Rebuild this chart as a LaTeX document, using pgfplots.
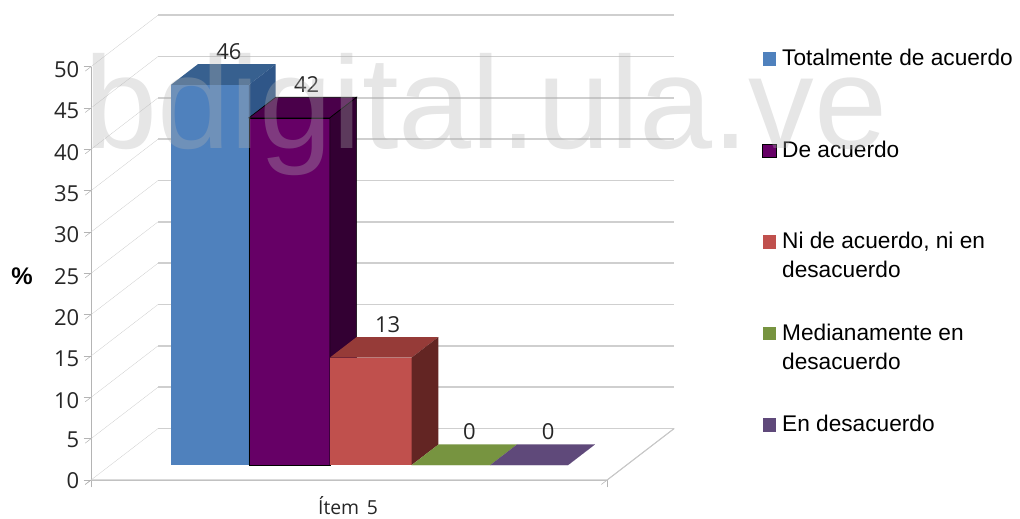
\documentclass[border=0pt]{standalone}
\usepackage{fontspec}
\setmainfont{Liberation Sans}
\newfontfamily\osans{Open Sans}
\usepackage{pgfplots}
\pgfplotsset{compat=1.18}

\definecolor{gridc}{HTML}{CFCFCF}
\definecolor{wallc}{HTML}{C8C8C8}
\definecolor{axisc}{HTML}{B4B4B4}
\definecolor{bluef}{HTML}{4F81BD}
\definecolor{bluet}{HTML}{37608F}
\definecolor{blues}{HTML}{2F5688}
\definecolor{purpf}{HTML}{660066}
\definecolor{purpt}{HTML}{4A004A}
\definecolor{purps}{HTML}{330033}
\definecolor{redf}{HTML}{C0504D}
\definecolor{redt}{HTML}{963B38}
\definecolor{reds}{HTML}{632523}
\definecolor{greent}{HTML}{779440}
\definecolor{violt}{HTML}{5F497A}

% one box: left edge, right edge, value, front/top/side colours, extra style
\newcommand{\boxbar}[7]{%
  \addplot3[fill=#4,draw=none,#7] coordinates {(#1,0.29,0) (#2,0.29,0) (#2,0.29,#3) (#1,0.29,#3)} --cycle;
  \addplot3[forget plot,fill=#5,draw=none,#7] coordinates {(#1,0.29,#3) (#2,0.29,#3) (#2,0.69,#3) (#1,0.69,#3)} --cycle;
  \addplot3[forget plot,fill=#6,draw=none,#7] coordinates {(#2,0.29,0) (#2,0.69,0) (#2,0.69,#3) (#2,0.29,#3)} --cycle;
  \addplot3[forget plot,draw=none,mark=none,point meta=z,nodes near coords,
    every node near coord/.style={anchor=center,yshift=17pt,text=black!85,font=\osans\fontsize{16.5}{16.5}\selectfont}]
    coordinates {(#1+0.56,0.49,#3)};
}

\begin{document}
\begin{tikzpicture}
\useasboundingbox (0,0) rectangle (765pt,-388.5pt);
\begin{axis}[
  at={(113.7pt,-360pt)}, anchor=origin,
  x={(59.55pt,0pt)}, y={(50.25pt,38.6pt)}, z={(0pt,6.2pt)},
  xmin=-0.763, xmax=5.737, ymin=0, ymax=1, zmin=0, zmax=50,
  clip=false,
  axis x line*=bottom, axis y line*=left, axis z line*=left,
  axis line style={axisc,-},
  xtick={-0.763,5.737}, xticklabels={,},
  ytick=\empty,
  ztick={0,5,...,50},
  tick align=outside, major tick length=5.5pt,
  tick style={axisc,thin},
  /pgf/number format/assume math mode=true,
  tick label style={font=\osans\fontsize{16.5}{16.5}\selectfont,text=black!85},
  z tick label style={xshift=-1pt,yshift=5.5pt},
  legend cell align=left,
  legend style={draw=none,fill=none,at={(axis cs:7.69,0,52.1)},anchor=north west,
    row sep=0pt,inner sep=0pt,outer sep=0pt,
    cells={anchor=base west},
    nodes={inner sep=0pt,outer sep=0pt,text depth=,font=\fontsize{17}{21.75}\selectfont}},
  legend image code/.code={\path[#1] (0pt,0pt) rectangle (10pt,10pt); \path (14.5pt,0pt);},
]
% walls and floor
\pgfplotsinvokeforeach{0,5,...,50}{
  \draw[wallc,very thin] (axis cs:-0.763,0,#1) -- (axis cs:-0.763,1,#1);
  \draw[gridc,line width=1.1pt] (axis cs:-0.763,1,#1) -- (axis cs:5.737,1,#1);
}
\draw[wallc,line width=0.8pt] (axis cs:-0.763,0,0) -- (axis cs:5.737,0,0) -- (axis cs:5.737,1,0);

\boxbar{0}{0.98}{46}{bluef}{bluet}{blues}{}
\boxbar{0.98}{2}{42}{purpf}{purpt}{purps}{draw=black,line width=0.5pt}
\boxbar{2}{3.03}{13}{redf}{redt}{reds}{}
\boxbar{3.03}{4.02}{0}{greent}{greent}{greent}{}
\boxbar{4.02}{5}{0}{violt}{violt}{violt}{}

\addlegendentry{\parbox[t][68.6pt][t]{190pt}{Totalmente de acuerdo}}
\addlegendentry{\parbox[t][68.6pt][t]{190pt}{De acuerdo}}
\addlegendentry{\parbox[t][68.6pt][t]{190pt}{Ni de acuerdo, ni en\\desacuerdo}}
\addlegendentry{\parbox[t][68.6pt][t]{190pt}{Medianamente en\\desacuerdo}}
\addlegendentry{\parbox[t][20pt][t]{190pt}{En desacuerdo}}
\end{axis}
\node[font=\bfseries\fontsize{18}{18}\selectfont] at (16.5pt,-207pt) {\%};
\node[font=\osans\fontsize{14.5}{14.5}\selectfont,text=black!85] at (261pt,-379.5pt) {Ítem\hspace{2pt} 5};
\node[font=\fontsize{98.5}{98.5}\selectfont,text=black!30,opacity=0.33,anchor=base west] at (60pt,-111pt) {bdigital.ula.ve};
\end{tikzpicture}
\end{document}
